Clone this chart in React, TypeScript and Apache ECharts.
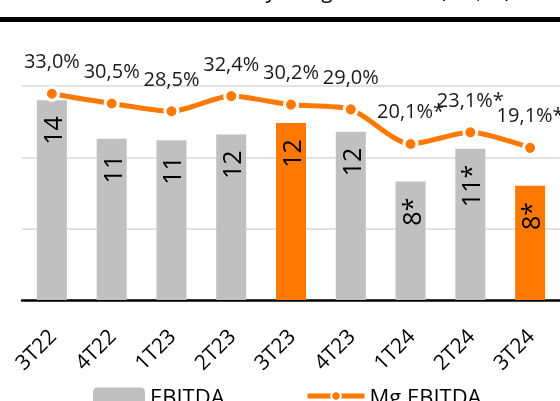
import React, { useEffect, useRef } from "react";
import * as echarts from "echarts";

const categories = ["3T22", "4T22", "1T23", "2T23", "3T23", "4T23", "1T24", "2T24", "3T24"];
const ebitda = [14.0, 11.3, 11.2, 11.6, 12.4, 11.8, 8.3, 10.6, 8.0];
const ebitdaLabels = ["14", "11", "11", "12", "12", "12", "8*", "11*", "8*"];
const marginValues = [33.0, 30.5, 28.5, 32.4, 30.2, 29.0, 20.1, 23.1, 19.1];
const marginLabels = ["33,0%", "30,5%", "28,5%", "32,4%", "30,2%", "29,0%", "20,1%*", "23,1%*", "19,1%*"];
const highlighted = ["3T23", "3T24"];
const titleText = "EBITDA y margen EBITDA (M€, %)";

const ORANGE = "#FF7900";
const GREY = "#C0C0C0";
const FONT = "Open Sans";

export default function App() {
  const ref = useRef<HTMLDivElement>(null);

  useEffect(() => {
    if (!ref.current) return;
    const chart = echarts.init(ref.current, undefined, { renderer: "svg" });
    chart.setOption({
      animation: false,
      textStyle: { fontFamily: FONT },
      graphic: [
        {
          type: "text",
          x: 511,
          y: 0,
          style: {
            text: titleText,
            align: "right",
            verticalAlign: "bottom",
            fontSize: 21,
            fontFamily: FONT,
            fill: "#000",
          },
        },
        {
          type: "rect",
          shape: { x: 0, y: 17, width: 560, height: 5 },
          style: { fill: "#000" },
        },
      ],
      legend: [
        {
          data: ["EBITDA"],
          left: 93,
          top: 385,
          padding: 0,
          itemWidth: 52,
          itemHeight: 17,
          textStyle: { fontSize: 22, color: "#000", fontFamily: FONT },
        },
        {
          data: [
            {
              name: "Mg EBITDA",
              lineStyle: { width: 5, color: ORANGE },
              itemStyle: { color: ORANGE, borderColor: "#fff", borderWidth: 2 },
            },
          ],
          left: 305,
          top: 385,
          padding: 0,
          itemWidth: 57,
          itemHeight: 12,
          textStyle: { fontSize: 22, color: "#000", fontFamily: FONT },
        },
      ],
      grid: { left: 22, width: 540, top: 86, height: 214 },
      xAxis: {
        type: "category",
        data: categories,
        boundaryGap: true,
        axisLine: { lineStyle: { color: "#000", width: 2.5 } },
        axisTick: { show: false },
        axisLabel: {
          rotate: 45,
          margin: 32,
          fontSize: 21,
          color: "#000",
          fontFamily: FONT,
          interval: 0,
        },
      },
      yAxis: [
        {
          type: "value",
          min: 0,
          max: 15,
          interval: 5,
          axisLabel: { show: false },
          axisLine: { show: false },
          axisTick: { show: false },
          splitLine: { lineStyle: { color: "#D9D9D9", width: 1.5 } },
        },
        {
          type: "value",
          min: -20,
          max: 35,
          show: false,
          splitLine: { show: false },
        },
      ],
      series: [
        {
          name: "EBITDA",
          type: "bar",
          barWidth: 30,
          itemStyle: { color: GREY },
          data: ebitda.map((v, i) => ({
            value: v,
            itemStyle: { color: highlighted.includes(categories[i]) ? ORANGE : GREY },
          })),
          label: {
            show: true,
            position: "insideTop",
            rotate: 90,
            align: "right",
            verticalAlign: "middle",
            distance: 16,
            fontSize: 25,
            color: "#000",
            fontFamily: FONT,
            formatter: (p: any) => ebitdaLabels[p.dataIndex],
          },
        },
        {
          name: "Mg EBITDA",
          type: "line",
          yAxisIndex: 1,
          smooth: 0.25,
          symbol: "circle",
          symbolSize: 13,
          z: 5,
          lineStyle: { width: 5, color: ORANGE },
          itemStyle: { color: ORANGE, borderColor: "#fff", borderWidth: 3 },
          data: marginValues,
          label: {
            show: true,
            position: "top",
            distance: 15,
            fontSize: 20,
            color: "#1a1a1a",
            fontFamily: FONT,
            formatter: (p: any) => marginLabels[p.dataIndex],
          },
        },
      ],
    });
    return () => chart.dispose();
  }, []);

  return (
    <div
      ref={ref}
      style={{ position: "fixed", left: 0, top: 0, width: 560, height: 401 }}
    />
  );
}
